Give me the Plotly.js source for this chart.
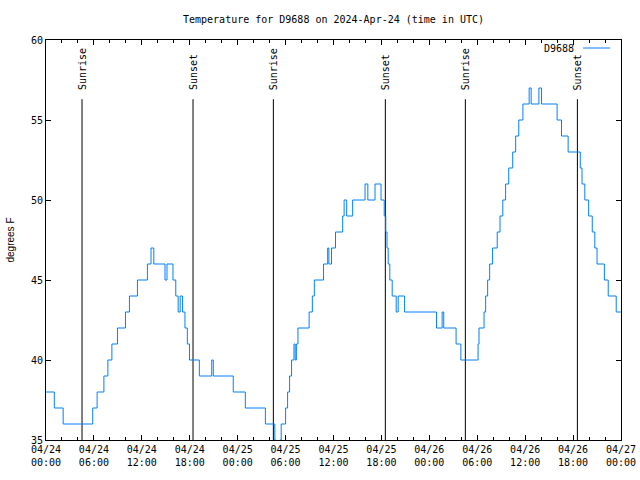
<!DOCTYPE html>
<html>
<head>
<meta charset="utf-8">
<script src="https://cdn.plot.ly/plotly-3.0.1.min.js"></script>
<style>html,body{margin:0;padding:0;background:#fff;}#chart{width:640px;height:480px;}</style>
</head>
<body>
<div id="chart"></div>
<script>
// Hours since 2024-04-24 00:00 UTC at which the reading changes, and the reading (deg F)
const hours = [0, 1.04, 2.15, 5.85, 6.4, 7.25, 7.75, 8.25, 8.95, 9.95, 10.45, 11.45, 12.7, 13.15, 13.5,
  14.9, 15.15, 15.9, 16.25, 16.55, 16.8, 17.1, 17.4, 17.7, 17.97,
  19.2, 20.75, 20.95, 23.45, 24.96, 27.47, 28.65, 28.8, 29.3, 29.45,
  30.0, 30.25, 30.5, 30.75, 31.05, 31.2, 31.35, 31.55, 32.95, 33.35, 33.6, 34.75,
  35.27, 35.42, 35.75, 36.25, 37.15, 37.33, 37.65, 38.4, 39.95, 40.3, 41.2, 41.95,
  42.35, 42.55, 42.7, 42.85, 43.05, 43.35, 43.85, 44.1, 44.9,
  48.9, 49.6, 49.8, 51.35, 51.95,
  54.1, 54.22, 54.85, 55.05, 55.3, 55.55, 55.92, 56.5, 56.85, 57.2, 57.55, 57.94, 58.44, 58.81, 59.2, 59.72,
  60.5, 60.75, 61.72, 62.05, 64.0, 64.55, 65.38, 66.9, 67.12, 67.47, 67.95, 68.4, 68.72, 69.0,
  69.92, 70.4, 71.4, 72.0];
const temps = [38, 37, 36, 37, 38, 39, 40, 41, 42, 43, 44, 45, 46, 47, 46,
  45, 46, 45, 44, 43, 44, 43, 42, 41, 40,
  39, 40, 39, 38, 37, 36, 35, 34, 35, 36,
  37, 38, 39, 40, 41, 40, 41, 42, 43, 44, 45, 46,
  47, 46, 47, 48, 49, 50, 49, 50, 51, 50, 51, 50,
  49, 48, 47, 46, 45, 44, 43, 44, 43,
  42, 43, 42, 41, 40,
  41, 42, 43, 44, 45, 46, 47, 48, 49, 50, 51, 52, 53, 54, 55, 56,
  57, 56, 57, 56, 55, 54, 53, 52, 51, 50, 49, 48, 47, 46,
  45, 44, 43, 43];

// Sun events (hours since 2024-04-24 00:00 UTC)
const sunEvents = [4.51, 18.41, 28.47, 42.49, 52.51, 66.54];
const sunLabels = ["Sunrise", "Sunset", "Sunrise", "Sunset", "Sunrise", "Sunset"];

// X tick positions and labels
const xTickVals = [0, 6, 12, 18, 24, 30, 36, 42, 48, 54, 60, 66, 72];
const xTickText = ["04/24<br>00:00", "04/24<br>06:00", "04/24<br>12:00", "04/24<br>18:00",
  "04/25<br>00:00", "04/25<br>06:00", "04/25<br>12:00", "04/25<br>18:00",
  "04/26<br>00:00", "04/26<br>06:00", "04/26<br>12:00", "04/26<br>18:00", "04/27<br>00:00"];

const seriesName = "D9688";
const titleText = "Temperature for D9688 on 2024-Apr-24 (time in UTC)";

const mono = "DejaVu Sans Mono";
const lineColor = "#0080ff";

const trace = {
  x: hours, y: temps, type: "scatter", mode: "lines", name: seriesName,
  line: {color: lineColor, width: 1, shape: "hv"}, showlegend: false
};

const shapes = sunEvents.map(t => ({
  type: "line", xref: "x", yref: "paper", x0: t, x1: t, y0: 0, y1: 0.852,
  line: {color: "black", width: 1}, layer: "below"
}));
// legend sample line (gnuplot style: text then sample)
shapes.push({type: "line", xref: "paper", yref: "paper", x0: 0.934, x1: 0.981, y0: 0.98, y1: 0.98,
  line: {color: lineColor, width: 1}});

const annotations = sunEvents.map((t, i) => ({
  x: t, xref: "x", y: 0.87, yref: "paper", text: sunLabels[i], textangle: -90,
  showarrow: false, xanchor: "center", yanchor: "bottom",
  font: {family: mono, size: 10, color: "black"}
}));
annotations.push({x: 0.921, xref: "paper", y: 0.98, yref: "paper", text: seriesName,
  showarrow: false, xanchor: "right", yanchor: "middle", font: {family: mono, size: 10, color: "black"}});

const layout = {
  width: 640, height: 480,
  margin: {l: 46, r: 19, t: 40, b: 40, pad: 0},
  paper_bgcolor: "white", plot_bgcolor: "white",
  title: {text: titleText, font: {family: mono, size: 10, color: "black"},
    x: 0.5, xref: "paper", xanchor: "center", y: 0.96, yref: "container", yanchor: "middle"},
  xaxis: {
    range: [0, 72], tickmode: "array", tickvals: xTickVals, ticktext: xTickText,
    ticks: "inside", ticklen: 5, tickcolor: "black", tickwidth: 1,
    showline: true, linecolor: "black", linewidth: 1, mirror: "ticks",
    showgrid: false, zeroline: false,
    tickfont: {family: mono, size: 10, color: "black"},
    minor: {tickmode: "linear", tick0: 0, dtick: 2, ticks: "inside", ticklen: 3, tickcolor: "black", showgrid: false}
  },
  yaxis: {
    range: [35, 60], dtick: 5, tick0: 35,
    ticks: "inside", ticklen: 5, tickcolor: "black", tickwidth: 1,
    showline: true, linecolor: "black", linewidth: 1, mirror: "ticks",
    showgrid: false, zeroline: false,
    tickfont: {family: mono, size: 10, color: "black"},
    title: {text: "degrees F", font: {family: "Liberation Sans", size: 10, color: "black"}, standoff: 14}
  },
  shapes: shapes,
  annotations: annotations,
  showlegend: false
};

Plotly.newPlot("chart", [trace], layout, {displayModeBar: false, staticPlot: true});
</script>
</body>
</html>
